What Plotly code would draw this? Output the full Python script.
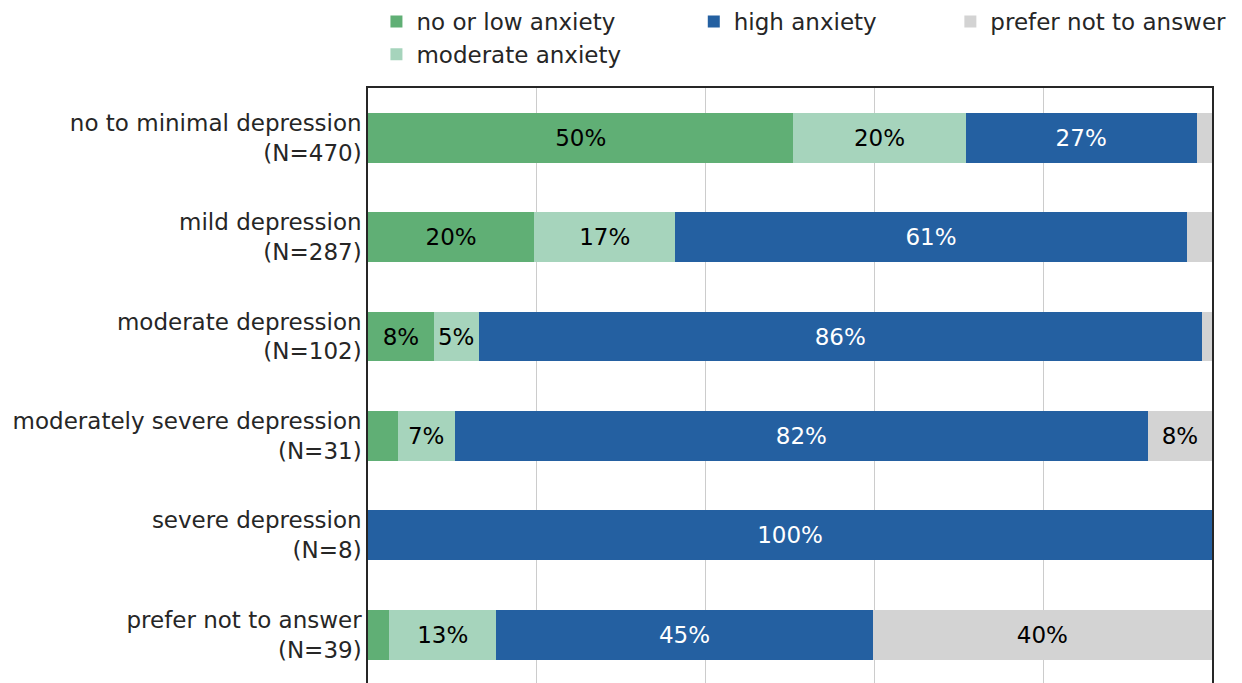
import plotly.graph_objects as go

# depression groups (top to bottom) and share of each anxiety level, in %
groups = ["no to minimal depression<br>(N=470)",
          "mild depression<br>(N=287)",
          "moderate depression<br>(N=102)",
          "moderately severe depression<br>(N=31)",
          "severe depression<br>(N=8)",
          "prefer not to answer<br>(N=39)"]

low_anx = [50.4, 19.7, 7.8, 3.5, 0.0, 2.5]
moderate_anx = [20.4, 16.7, 5.3, 6.8, 0.0, 12.7]
high_anx = [27.4, 60.6, 85.7, 82.1, 100.0, 44.6]
no_answer = [1.8, 3.0, 1.2, 7.6, 0.0, 40.2]

series = [
    ("no or low anxiety", low_anx, "#60af75", "#000000", "legend"),
    ("moderate anxiety", moderate_anx, "#a6d4bc", "#000000", "legend"),
    ("high anxiety", high_anx, "#2460a1", "#ffffff", "legend2"),
    ("prefer not to answer", no_answer, "#d3d3d3", "#000000", "legend3"),
]

FONT = "DejaVu Sans"
TXT = "#262626"
FS = 23

fig = go.Figure()
for name, vals, color, tcolor, leg in series:
    labels = [f"{v:.0f}%" if v >= 5 else "" for v in vals]
    fig.add_trace(go.Bar(
        y=list(range(len(groups))), x=vals, name=name, orientation="h",
        marker=dict(color=color, line=dict(width=0)),
        width=0.5, text=labels, textposition="inside",
        insidetextanchor="middle", textangle=0, constraintext="none",
        textfont=dict(color=tcolor, size=FS, family=FONT),
        legend=leg, hoverinfo="skip",
    ))

leg_common = dict(orientation="v", yref="container", yanchor="top", y=1,
                  bgcolor="rgba(0,0,0,0)", traceorder="normal",
                  font=dict(size=FS, family=FONT, color=TXT),
                  tracegroupgap=0, itemclick=False)

fig.update_layout(
    barmode="stack",
    width=1242, height=683,
    margin=dict(l=368, r=30, t=88, b=0, pad=0),
    plot_bgcolor="white", paper_bgcolor="white",
    font=dict(family=FONT, size=FS, color=TXT),
    legend=dict(x=0.01, xanchor="left", **leg_common),
    legend2=dict(x=0.386, xanchor="left", **leg_common),
    legend3=dict(x=0.69, xanchor="left", **leg_common),
)

fig.update_xaxes(range=[0, 100], side="top", showticklabels=False, ticks="",
                 tickvals=[20, 40, 60, 80], showgrid=True, gridcolor="#cccccc",
                 gridwidth=1, zeroline=False, showline=True,
                 linecolor=TXT, linewidth=1.5, automargin=False)
fig.update_yaxes(range=[5.486, -0.5], tickvals=list(range(len(groups))),
                 ticktext=groups, showgrid=False, zeroline=False, ticks="",
                 showline=True, mirror=True, linecolor=TXT, linewidth=1.5,
                 tickfont=dict(size=FS, family=FONT, color=TXT),
                 automargin=False)

# remove the page's default body margin so the figure sits at the window corner
fig.write_html("out.html", config={"displayModeBar": False},
               post_script="document.body.style.margin='0';")
